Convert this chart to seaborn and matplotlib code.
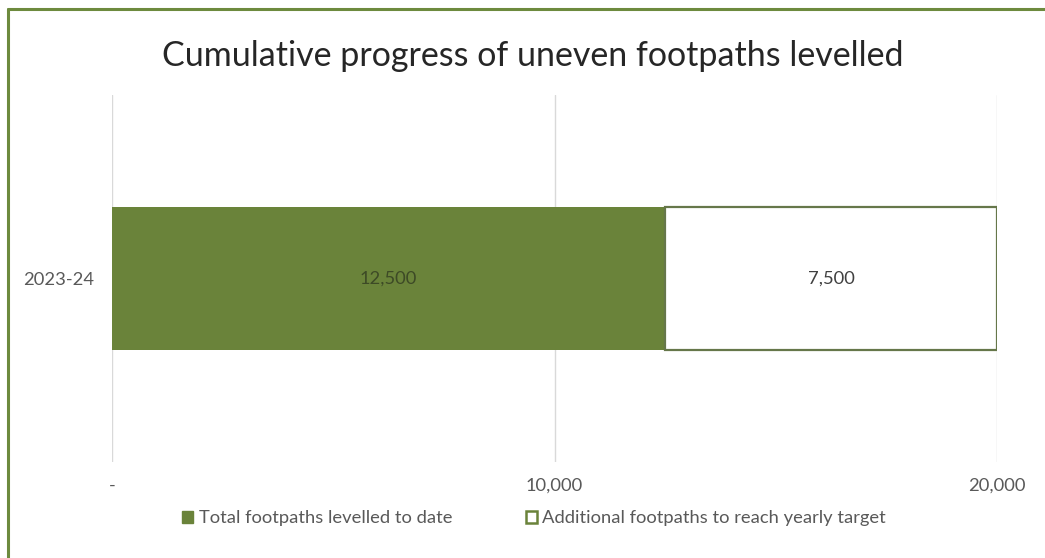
import matplotlib
matplotlib.use("Agg")
import matplotlib.pyplot as plt
import matplotlib.lines as mlines
import matplotlib.patches as mpatches
import pandas as pd
import seaborn as sns

# Data
categories = ["2023-24"]
levelled_to_date = [12500]
remaining_to_target = [7500]
series_names = ["Total footpaths levelled to date",
                "Additional footpaths to reach yearly target"]
x_ticks = [0, 10000, 20000]
x_tick_labels = ["-", "10,000", "20,000"]
title = "Cumulative progress of uneven footpaths levelled"

GREEN = "#6a833a"
EDGE = "#66774a"
TEXT = "#595959"
SMALL = 13.2

sns.set_theme(style="white")
plt.rcParams["font.family"] = ["Lato", "DejaVu Sans"]

fig = plt.figure(figsize=(10.45, 5.58), dpi=100)
fig.patch.set_facecolor("white")
ax = fig.add_axes([0.1072, 0.172, 0.8470, 0.658])

df_done = pd.DataFrame({"period": categories, "value": levelled_to_date})
df_rest = pd.DataFrame({"period": categories, "value": remaining_to_target})

sns.barplot(data=df_done, x="value", y="period", orient="h", ax=ax,
            color=GREEN, width=0.39, linewidth=0, saturation=1, zorder=3)
sns.barplot(data=df_rest, x="value", y="period", orient="h", ax=ax,
            color="white", width=0.39, edgecolor=EDGE, linewidth=1.6,
            saturation=1, left=levelled_to_date, zorder=3)

# Value labels centred in each segment
for i, cat in enumerate(categories):
    ax.text(levelled_to_date[i] / 2, i, f"{levelled_to_date[i]:,}",
            ha="center", va="center", fontsize=SMALL, color="#3d4a26",
            zorder=4)
    ax.text(levelled_to_date[i] + remaining_to_target[i] / 2, i,
            f"{remaining_to_target[i]:,}", ha="center", va="center",
            fontsize=SMALL, color="#404040", zorder=4)

ax.set_xlim(0, 20000)
ax.set_ylim(0.5, -0.5)
ax.set_xticks(x_ticks)
ax.set_xticklabels(x_tick_labels, fontsize=SMALL, color=TEXT)
ax.tick_params(axis="y", labelsize=SMALL, labelcolor=TEXT, length=0, pad=13)
ax.tick_params(axis="x", length=0, pad=11)
ax.set_xlabel("")
ax.set_ylabel("")
ax.grid(axis="x", color="#d9d9d9", linewidth=1, zorder=0)
ax.grid(axis="y", visible=False)
for s in ax.spines.values():
    s.set_visible(False)

fig.suptitle(title, x=0.51, y=0.928, fontsize=24.5, color="#262626")

handles = [
    mpatches.Patch(facecolor=GREEN, edgecolor=GREEN, label=series_names[0]),
    mpatches.Patch(facecolor="white", edgecolor=GREEN, linewidth=1.8,
                   label=series_names[1]),
]
fig.legend(handles=handles, loc="center", bbox_to_anchor=(0.511, 0.071),
           ncol=2, frameon=False, fontsize=SMALL, handlelength=0.6,
           handleheight=0.6, handletextpad=0.3, columnspacing=4.0,
           labelcolor=TEXT)

# Frame lines along the top and left edges
fig.add_artist(mlines.Line2D([0.0075, 1.0], [1 - 8.5 / 558, 1 - 8.5 / 558],
                             transform=fig.transFigure, color="#6d8a3e",
                             linewidth=2.2))
fig.add_artist(mlines.Line2D([8 / 1045, 8 / 1045], [0.0, 1 - 8.5 / 558],
                             transform=fig.transFigure, color="#6d8a3e",
                             linewidth=2.2))

fig.savefig("out.png", dpi=100, facecolor="white")
